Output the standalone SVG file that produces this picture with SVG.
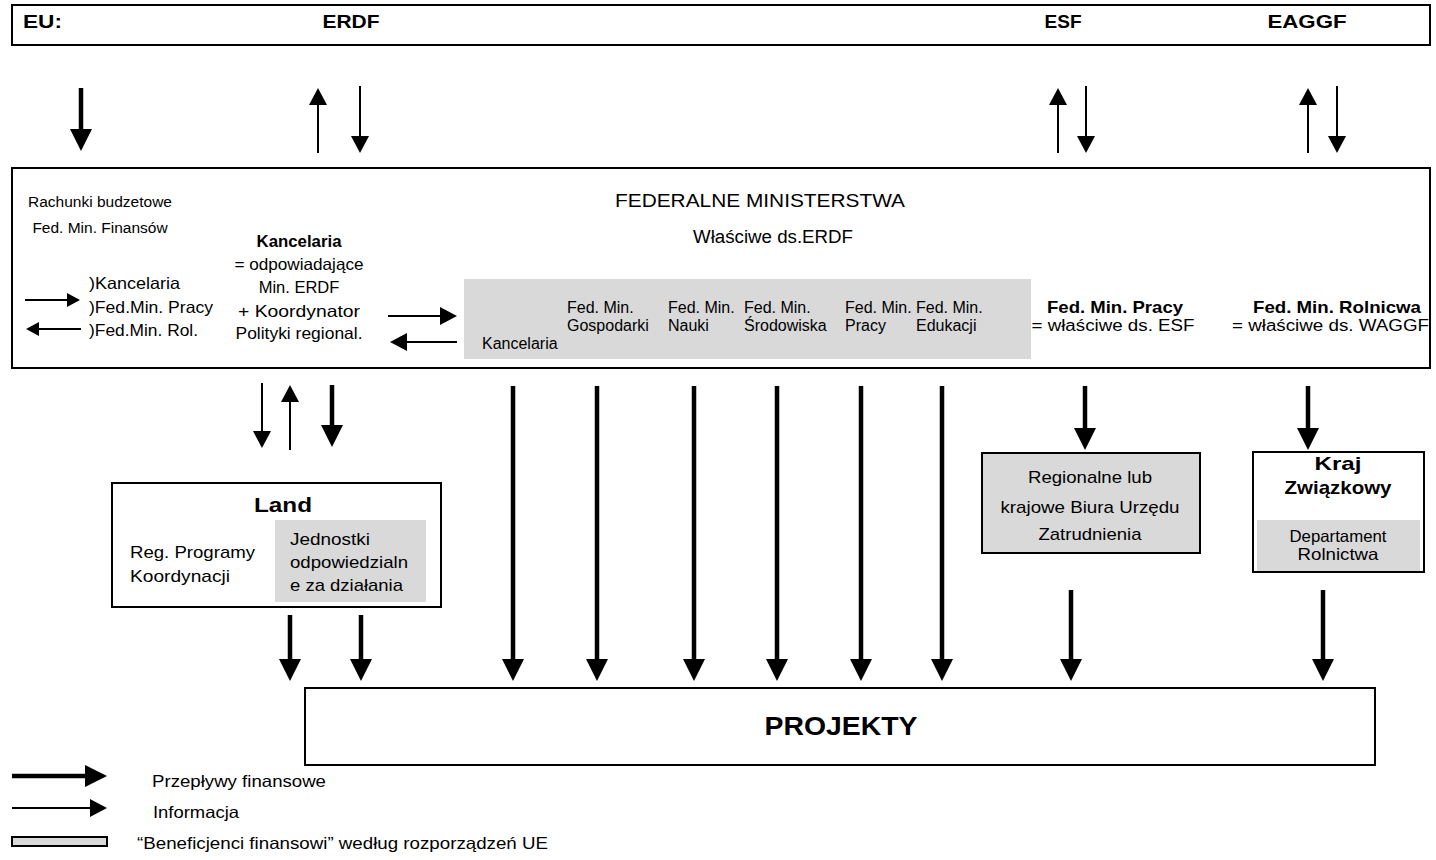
<svg xmlns="http://www.w3.org/2000/svg" width="1436" height="860" viewBox="0 0 1436 860">
<style>
text{font-family:"Liberation Sans",Arial,sans-serif;fill:#000;}
.b{font-weight:bold;}
.m{text-anchor:middle;}
.box{fill:#fff;stroke:#000;stroke-width:2;}
.grey{fill:#d9d9d9;stroke:none;}
.greyb{fill:#d9d9d9;stroke:#000;stroke-width:2;}
.thick{stroke:#000;stroke-width:4.5;fill:none;marker-end:url(#ahThick);}
.thin{stroke:#000;stroke-width:2;fill:none;marker-end:url(#ahThin);}
.small{stroke:#000;stroke-width:2;fill:none;marker-end:url(#ahSmall);}
</style>
<defs>
<marker id="ahThick" markerUnits="userSpaceOnUse" viewBox="0 0 22 22" refX="0" refY="11" markerWidth="22" markerHeight="22" orient="auto"><path d="M0,0 L22,11 L0,22 z" fill="#000"/></marker>
<marker id="ahThin" markerUnits="userSpaceOnUse" viewBox="0 0 17 18" refX="0" refY="9" markerWidth="17" markerHeight="18" orient="auto"><path d="M0,0 L17,9 L0,18 z" fill="#000"/></marker>
<marker id="ahSmall" markerUnits="userSpaceOnUse" viewBox="0 0 13 14" refX="0" refY="7" markerWidth="13" markerHeight="14" orient="auto"><path d="M0,0 L13,7 L0,14 z" fill="#000"/></marker>
</defs>
<rect width="1436" height="860" fill="#fff"/>

<g id="eu">
<rect class="box" x="12" y="5" width="1418" height="40"/>
<text class="b" x="23" y="28" font-size="18.5" textLength="39" lengthAdjust="spacingAndGlyphs">EU:</text>
<text class="b m" x="351" y="28" font-size="18.5" textLength="57" lengthAdjust="spacingAndGlyphs">ERDF</text>
<text class="b m" x="1063" y="28" font-size="18.5" textLength="37" lengthAdjust="spacingAndGlyphs">ESF</text>
<text class="b m" x="1307" y="28" font-size="18.5" textLength="79" lengthAdjust="spacingAndGlyphs">EAGGF</text>
</g>

<g id="federal">
<rect class="box" x="12" y="168" width="1418" height="200" stroke-width="2.5"/>
<text class="m" x="100" y="207" font-size="15.5">Rachunki budzetowe</text>
<text class="m" x="100" y="233" font-size="15.5">Fed. Min. Finansów</text>
<text class="m" x="760" y="207" font-size="19" textLength="290" lengthAdjust="spacingAndGlyphs">FEDERALNE MINISTERSTWA</text>
<text class="m" x="773" y="243" font-size="18" textLength="160" lengthAdjust="spacingAndGlyphs">Właściwe ds.ERDF</text>
<text x="89" y="289" font-size="16.5" textLength="91" lengthAdjust="spacingAndGlyphs">)Kancelaria</text>
<text x="89" y="313" font-size="16.5" textLength="124" lengthAdjust="spacingAndGlyphs">)Fed.Min. Pracy</text>
<text x="89" y="336" font-size="16.5" textLength="109" lengthAdjust="spacingAndGlyphs">)Fed.Min. Rol.</text>
</g>

<g id="kancelaria-coord">
<text class="b m" x="299" y="247" font-size="16" textLength="85" lengthAdjust="spacingAndGlyphs">Kancelaria</text>
<text class="m" x="299" y="270" font-size="16.5" textLength="129" lengthAdjust="spacingAndGlyphs">= odpowiadające</text>
<text class="m" x="299" y="293" font-size="16.5">Min. ERDF</text>
<text class="m" x="299" y="317" font-size="16.5" textLength="122" lengthAdjust="spacingAndGlyphs">+ Koordynator</text>
<text class="m" x="299" y="339" font-size="16.5" textLength="127" lengthAdjust="spacingAndGlyphs">Polityki regional.</text>
</g>

<g id="ministries-erdf">
<rect class="grey" x="464" y="279" width="567" height="80"/>
<text x="482" y="349" font-size="16">Kancelaria</text>
<text x="567" y="313" font-size="16">Fed. Min.</text>
<text x="567" y="331" font-size="16">Gospodarki</text>
<text x="668" y="313" font-size="16">Fed. Min.</text>
<text x="668" y="331" font-size="16">Nauki</text>
<text x="744" y="313" font-size="16">Fed. Min.</text>
<text x="744" y="331" font-size="16">Środowiska</text>
<text x="845" y="313" font-size="16">Fed. Min.</text>
<text x="845" y="331" font-size="16">Pracy</text>
<text x="916" y="313" font-size="16">Fed. Min.</text>
<text x="916" y="331" font-size="16">Edukacji</text>
</g>

<g id="min-pracy">
<text class="b m" x="1115" y="313" font-size="17" textLength="136" lengthAdjust="spacingAndGlyphs">Fed. Min. Pracy</text>
<text class="m" x="1113" y="331" font-size="16" textLength="163" lengthAdjust="spacingAndGlyphs">= właściwe ds. ESF</text>
</g>

<g id="min-rolnictwa">
<text class="b m" x="1337" y="313" font-size="17" textLength="168" lengthAdjust="spacingAndGlyphs">Fed. Min. Rolnicwa</text>
<text x="1232" y="331" font-size="16" textLength="197" lengthAdjust="spacingAndGlyphs">= właściwe ds. WAGGF</text>
</g>

<g id="land">
<rect class="box" x="112" y="483" width="329" height="124"/>
<rect class="grey" x="275" y="520" width="151" height="82"/>
<text class="b m" x="283" y="512" font-size="21" textLength="58" lengthAdjust="spacingAndGlyphs">Land</text>
<text x="130" y="558" font-size="17" textLength="125" lengthAdjust="spacingAndGlyphs">Reg. Programy</text>
<text x="130" y="582" font-size="17" textLength="100" lengthAdjust="spacingAndGlyphs">Koordynacji</text>
<text x="290" y="545" font-size="17" textLength="80" lengthAdjust="spacingAndGlyphs">Jednostki</text>
<text x="290" y="568" font-size="17" textLength="118" lengthAdjust="spacingAndGlyphs">odpowiedzialn</text>
<text x="290" y="591" font-size="17" textLength="113" lengthAdjust="spacingAndGlyphs">e za działania</text>
</g>

<g id="regionalne-biura">
<rect class="greyb" x="982" y="453" width="218" height="100"/>
<text class="m" x="1090" y="483" font-size="17" textLength="124" lengthAdjust="spacingAndGlyphs">Regionalne lub</text>
<text class="m" x="1090" y="513" font-size="17" textLength="179" lengthAdjust="spacingAndGlyphs">krajowe Biura Urzędu</text>
<text class="m" x="1090" y="540" font-size="17" textLength="103" lengthAdjust="spacingAndGlyphs">Zatrudnienia</text>
</g>

<g id="kraj-zwiazkowy">
<rect class="box" x="1253" y="452" width="171" height="120"/>
<rect class="grey" x="1257" y="520" width="163" height="51"/>
<text class="b m" x="1338" y="470" font-size="19" textLength="47" lengthAdjust="spacingAndGlyphs">Kraj</text>
<text class="b m" x="1338" y="494" font-size="19" textLength="107" lengthAdjust="spacingAndGlyphs">Związkowy</text>
<text class="m" x="1338" y="542" font-size="16.5" textLength="97" lengthAdjust="spacingAndGlyphs">Departament</text>
<text class="m" x="1338" y="560" font-size="16.5" textLength="81" lengthAdjust="spacingAndGlyphs">Rolnictwa</text>
</g>

<g id="projekty">
<rect class="box" x="305" y="688" width="1070" height="77"/>
<text class="b m" x="841" y="735" font-size="26" textLength="153" lengthAdjust="spacingAndGlyphs">PROJEKTY</text>
</g>

<g id="connectors">
<path class="thick" d="M81,88 V129"/>
<path class="thin" d="M318,153 V105"/>
<path class="thin" d="M360,86 V136"/>
<path class="thin" d="M1058,153 V105"/>
<path class="thin" d="M1086,86 V136"/>
<path class="thin" d="M1308,153 V105"/>
<path class="thin" d="M1337,86 V136"/>
<path class="small" d="M25,300 H67"/>
<path class="small" d="M81,329 H39"/>
<path class="thin" d="M388,316 H440"/>
<path class="thin" d="M457,342 H407"/>
<path class="thin" d="M262,383 V431"/>
<path class="thin" d="M290,450 V402"/>
<path class="thick" d="M332,385 V425"/>
<path class="thick" d="M513,386 V659"/>
<path class="thick" d="M597,386 V659"/>
<path class="thick" d="M694,386 V659"/>
<path class="thick" d="M777,386 V659"/>
<path class="thick" d="M861,386 V659"/>
<path class="thick" d="M942,386 V659"/>
<path class="thick" d="M1085,386 V428"/>
<path class="thick" d="M1308,386 V428"/>
<path class="thick" d="M290,615 V659"/>
<path class="thick" d="M361,615 V659"/>
<path class="thick" d="M1071,590 V659"/>
<path class="thick" d="M1323,590 V659"/>
</g>

<g id="legend">
<path class="thick" d="M12,776 H85"/>
<text x="152" y="787" font-size="16.5" textLength="174" lengthAdjust="spacingAndGlyphs">Przepływy finansowe</text>
<path class="thin" d="M12,808 H90"/>
<text x="153" y="818" font-size="16.5" textLength="86" lengthAdjust="spacingAndGlyphs">Informacja</text>
<rect class="greyb" x="12" y="837" width="95" height="9"/>
<text x="137" y="849" font-size="16.5" textLength="411" lengthAdjust="spacingAndGlyphs">“Beneficjenci finansowi” według rozporządzeń UE</text>
</g>
</svg>
